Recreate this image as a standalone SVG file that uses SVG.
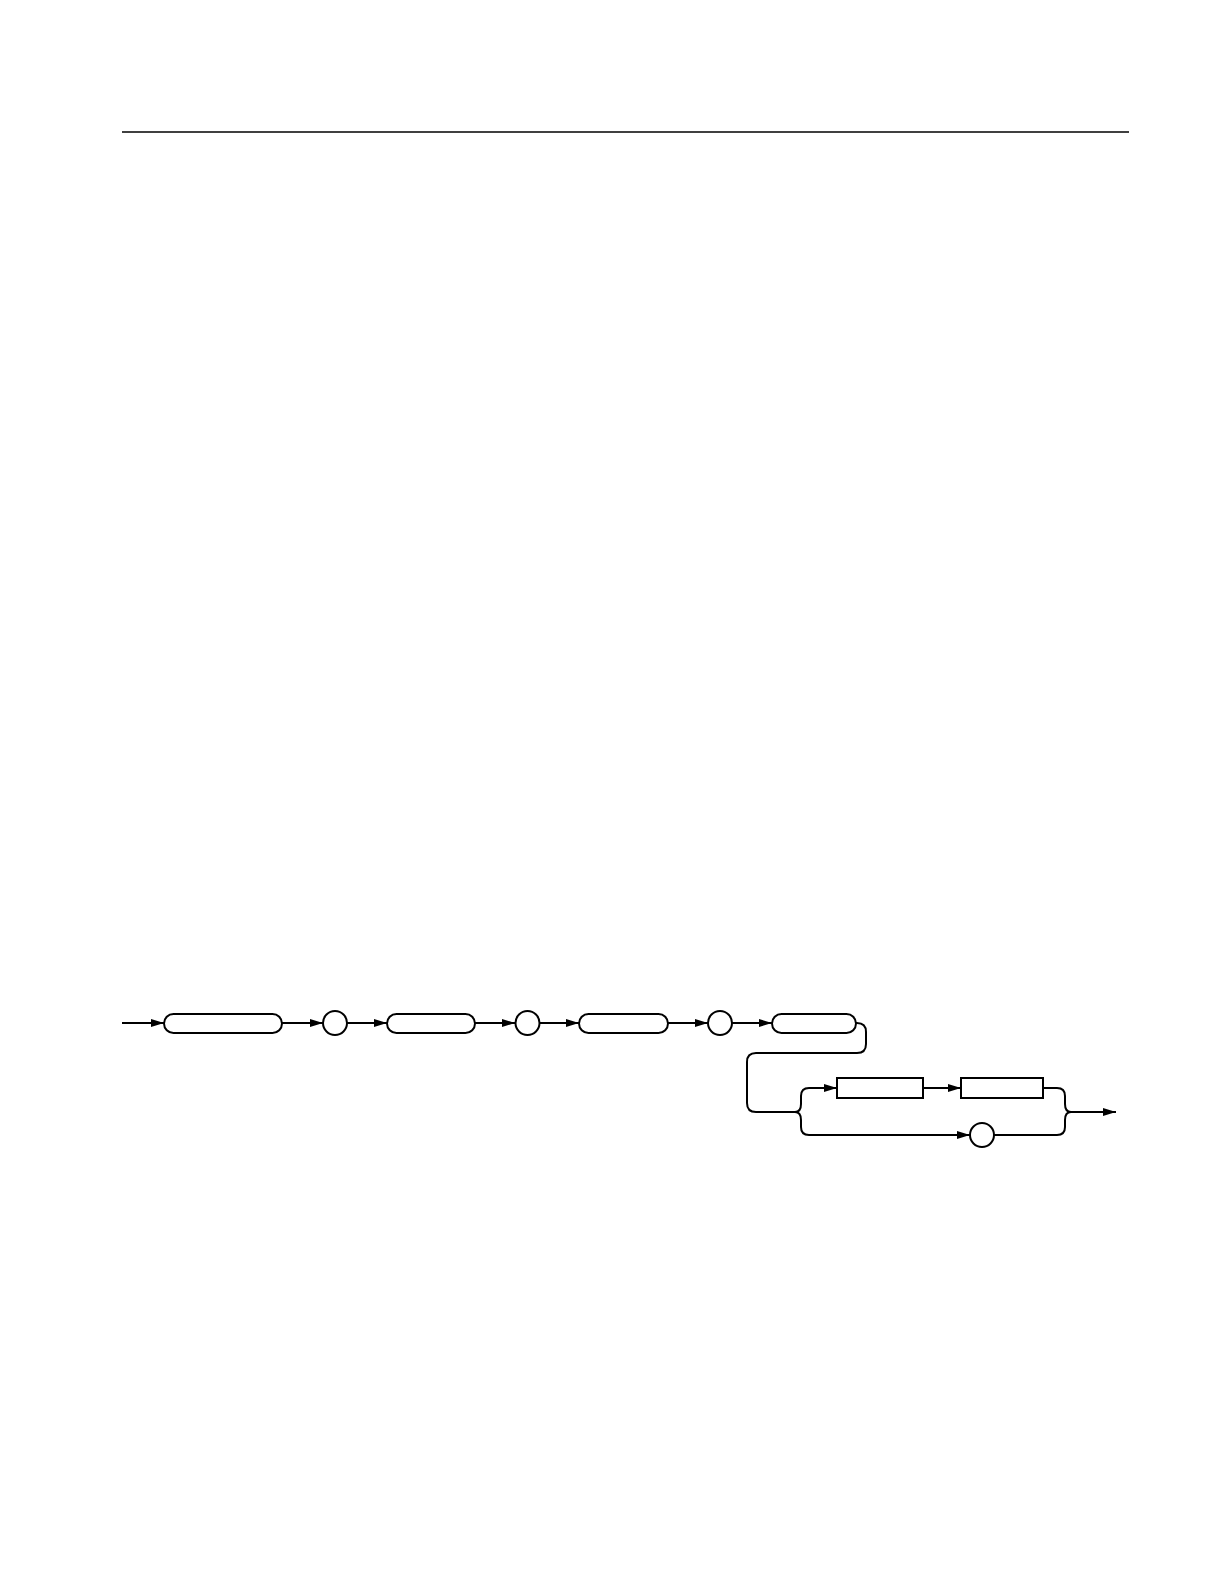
<svg xmlns="http://www.w3.org/2000/svg" width="1224" height="1584" viewBox="0 0 1224 1584">
<style>
.ln{fill:none;stroke:#000;stroke-width:2}
.nd{fill:#fff;stroke:#000;stroke-width:2}
</style>
<defs>
<marker id="ah" markerUnits="userSpaceOnUse" markerWidth="14" markerHeight="10" refX="13" refY="5" orient="auto">
<path d="M0,1 L13,5 L0,9 Z" fill="#000"/>
</marker>
</defs>
<rect width="1224" height="1584" fill="#fff"/>
<line x1="122" y1="132" x2="1129" y2="132" stroke="#000" stroke-width="1.5"/>
<g id="connectors">
<path class="ln" d="M122,1023 H164" marker-end="url(#ah)"/>
<path class="ln" d="M282,1023 H323" marker-end="url(#ah)"/>
<path class="ln" d="M347,1023 H387" marker-end="url(#ah)"/>
<path class="ln" d="M475,1023 H515" marker-end="url(#ah)"/>
<path class="ln" d="M540,1023 H579" marker-end="url(#ah)"/>
<path class="ln" d="M668,1023 H708" marker-end="url(#ah)"/>
<path class="ln" d="M732,1023 H772" marker-end="url(#ah)"/>
<path class="ln" d="M856,1023 H857 Q866,1023 866,1032 V1044 Q866,1053 857,1053 H756 Q747,1053 747,1062 V1103 Q747,1112 756,1112 H795"/>
<path class="ln" d="M795,1112 Q801,1112 801,1104 V1096 Q801,1088 809,1088 H837" marker-end="url(#ah)"/>
<path class="ln" d="M795,1112 Q801,1112 801,1120 V1127 Q801,1135 809,1135 H970" marker-end="url(#ah)"/>
<path class="ln" d="M923,1088 H961" marker-end="url(#ah)"/>
<path class="ln" d="M1043,1088 H1057 Q1065,1088 1065,1096 V1104 Q1065,1112 1071,1112"/>
<path class="ln" d="M994,1135 H1057 Q1065,1135 1065,1127 V1120 Q1065,1112 1071,1112"/>
<path class="ln" d="M1070,1112 H1116" marker-end="url(#ah)"/>
</g>
<g id="n1"><rect class="nd" x="164" y="1014" width="118" height="19" rx="9.5"/></g>
<g id="c1"><circle class="nd" cx="335" cy="1023" r="12"/></g>
<g id="n2"><rect class="nd" x="387" y="1014" width="88" height="19" rx="9.5"/></g>
<g id="c2"><circle class="nd" cx="527.5" cy="1023" r="12"/></g>
<g id="n3"><rect class="nd" x="579" y="1014" width="89" height="19" rx="9.5"/></g>
<g id="c3"><circle class="nd" cx="720" cy="1023" r="12"/></g>
<g id="n4"><rect class="nd" x="772" y="1014" width="84" height="19" rx="9.5"/></g>
<g id="n5"><rect class="nd" x="837" y="1078" width="86" height="20"/></g>
<g id="n6"><rect class="nd" x="961" y="1078" width="82" height="20"/></g>
<g id="c4"><circle class="nd" cx="982" cy="1135" r="12"/></g>
</svg>
